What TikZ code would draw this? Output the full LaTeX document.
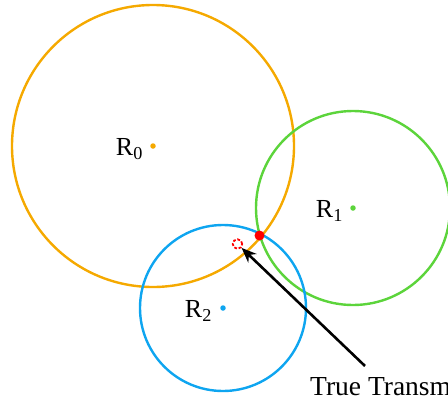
\documentclass[tikz,border=0pt]{standalone}
\usepackage{fontspec}
\setmainfont{Liberation Serif}
\usetikzlibrary{arrows.meta, positioning}
\definecolor{rxorange}{HTML}{F5A900}
\definecolor{rxgreen}{HTML}{5CD43B}
\definecolor{rxblue}{HTML}{0EA5F0}
\definecolor{rxred}{HTML}{FF0000}

\begin{document}
\begin{tikzpicture}[
    x=1pt, y=-1pt,
    rx/.style={circle, fill=#1, inner sep=0pt, minimum size=5.5pt},
    range/.style={draw=#1, line width=2.4pt},
    lbl/.style={font=\fontsize{26}{30}\selectfont, inner sep=0pt},
    truepos/.style={circle, draw=rxred, dashed, dash pattern=on 2.8pt off 1.8pt, line width=1.8pt, minimum size=9.5pt, inner sep=0pt},
    fix/.style={circle, fill=rxred, inner sep=0pt, minimum size=10pt}
]
\useasboundingbox (0,0) rectangle (448,400);

% Receivers
\node[rx=rxorange] (r0) at (153,146) {};
\node[rx=rxgreen] (r1) at (353,208) {};
\node[rx=rxblue] (r2) at (223,308) {};

% Range circles
\draw[range=rxorange] (r0.center) circle (141);
\draw[range=rxgreen] (r1.center) circle (97);
\draw[range=rxblue] (r2.center) circle (83);

\node[lbl, left=7pt of r0, yshift=-3pt] (l0) {R\textsubscript{0}};
\node[lbl, left=7pt of r1, yshift=-3pt] (l1) {R\textsubscript{1}};
\node[lbl, left=8pt of r2, yshift=-3pt] (l2) {R\textsubscript{2}};

% Estimate and truth
\node[fix] (est) at (259.5,235.5) {};
\node[truepos] (tx) at (237.5,244) {};

\node[lbl, font=\fontsize{27.5}{32}\selectfont, anchor=base west] (txt) at (310,395) {True Transmitter};
\draw[-{Stealth[length=15pt, width=12pt]}, line width=2.6pt] (365,366) -- (tx);

\end{tikzpicture}
\end{document}
